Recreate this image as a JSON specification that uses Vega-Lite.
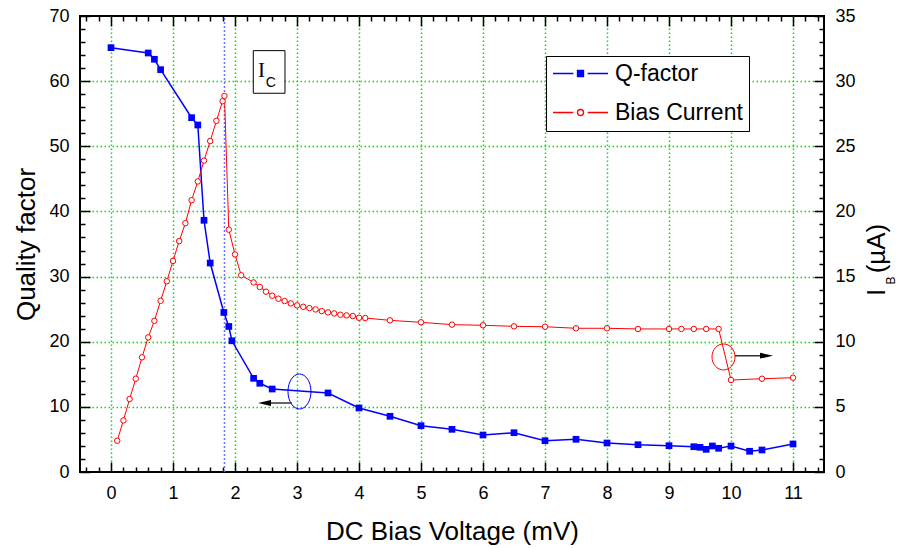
{
  "$schema": "https://vega.github.io/schema/vega-lite/v6.json",
  "width": 744,
  "height": 456,
  "autosize": {"type": "none"},
  "padding": {"left": 80, "top": 16, "right": 75, "bottom": 76},
  "background": "white",
  "config": {
    "view": {"stroke": "black", "strokeWidth": 2},
    "font": "Liberation Sans",
    "axis": {
      "labelFont": "Liberation Sans", "labelFontSize": 18, "labelColor": "black",
      "titleFont": "Liberation Sans", "titleFontSize": 26, "titleFontWeight": "normal", "titleColor": "black",
      "tickColor": "black", "tickWidth": 1.5, "domain": false, "labelFlush": false, "labelOverlap": false
    }
  },
  "datasets": {
    "q": [
      {"v": 0, "q": 65.14}, {"v": 0.6, "q": 64.32}, {"v": 0.7, "q": 63.36}, {"v": 0.8, "q": 61.76},
      {"v": 1.3, "q": 54.39}, {"v": 1.4, "q": 53.27}, {"v": 1.5, "q": 38.64}, {"v": 1.6, "q": 32.08},
      {"v": 1.82, "q": 24.49}, {"v": 1.9, "q": 22.34}, {"v": 1.95, "q": 20.14}, {"v": 2.3, "q": 14.38},
      {"v": 2.4, "q": 13.62}, {"v": 2.6, "q": 12.74}, {"v": 3.5, "q": 12.13}, {"v": 4.0, "q": 9.83},
      {"v": 4.5, "q": 8.55}, {"v": 5.0, "q": 7.11}, {"v": 5.5, "q": 6.55}, {"v": 6.0, "q": 5.68},
      {"v": 6.5, "q": 6.03}, {"v": 7.0, "q": 4.8}, {"v": 7.5, "q": 5.02}, {"v": 8.0, "q": 4.45},
      {"v": 8.5, "q": 4.19}, {"v": 9.0, "q": 4.04}, {"v": 9.4, "q": 3.88}, {"v": 9.5, "q": 3.79},
      {"v": 9.6, "q": 3.48}, {"v": 9.7, "q": 3.99}, {"v": 9.8, "q": 3.64}, {"v": 10.0, "q": 3.99},
      {"v": 10.3, "q": 3.18}, {"v": 10.5, "q": 3.38}, {"v": 11.0, "q": 4.3}
    ],
    "ib": [
      {"v": 0.1, "i": 2.4}, {"v": 0.2, "i": 3.96}, {"v": 0.3, "i": 5.6}, {"v": 0.4, "i": 7.16},
      {"v": 0.5, "i": 8.8}, {"v": 0.6, "i": 10.33}, {"v": 0.7, "i": 11.6}, {"v": 0.8, "i": 13.14},
      {"v": 0.9, "i": 14.64}, {"v": 1.0, "i": 16.2}, {"v": 1.1, "i": 17.72}, {"v": 1.2, "i": 19.1},
      {"v": 1.3, "i": 20.86}, {"v": 1.4, "i": 22.3}, {"v": 1.5, "i": 23.9}, {"v": 1.6, "i": 25.4},
      {"v": 1.7, "i": 26.95}, {"v": 1.8, "i": 28.46}, {"v": 1.83, "i": 28.86}, {"v": 1.9, "i": 18.6},
      {"v": 2.0, "i": 16.7}, {"v": 2.1, "i": 15.1}, {"v": 2.3, "i": 14.55}, {"v": 2.4, "i": 14.2},
      {"v": 2.5, "i": 13.84}, {"v": 2.6, "i": 13.53}, {"v": 2.7, "i": 13.3}, {"v": 2.8, "i": 13.12},
      {"v": 2.9, "i": 12.94}, {"v": 3.0, "i": 12.79}, {"v": 3.1, "i": 12.68}, {"v": 3.2, "i": 12.58},
      {"v": 3.3, "i": 12.48}, {"v": 3.4, "i": 12.35}, {"v": 3.5, "i": 12.25}, {"v": 3.6, "i": 12.17},
      {"v": 3.7, "i": 12.07}, {"v": 3.8, "i": 12.02}, {"v": 3.9, "i": 11.97}, {"v": 4.0, "i": 11.84},
      {"v": 4.1, "i": 11.82}, {"v": 4.5, "i": 11.64}, {"v": 5.0, "i": 11.49}, {"v": 5.5, "i": 11.31},
      {"v": 6.0, "i": 11.26}, {"v": 6.5, "i": 11.18}, {"v": 7.0, "i": 11.15}, {"v": 7.5, "i": 11.03},
      {"v": 8.0, "i": 11.03}, {"v": 8.5, "i": 10.98}, {"v": 9.0, "i": 10.98}, {"v": 9.2, "i": 10.98},
      {"v": 9.4, "i": 10.98}, {"v": 9.6, "i": 10.98}, {"v": 9.8, "i": 10.98}, {"v": 10.0, "i": 7.06},
      {"v": 10.5, "i": 7.16}, {"v": 11.0, "i": 7.24}
    ],
    "one": [{"k": 1}]
  },
  "layer": [
    {
      "layer": [
        {
          "data": {"name": "q"},
          "mark": {"type": "point", "opacity": 0},
          "encoding": {
            "x": {
              "field": "v", "type": "quantitative",
              "scale": {"domain": [-0.5, 11.5], "nice": false, "zero": false},
              "axis": {"orient": "bottom", "title": null, "labels": false, "ticks": false, "domain": false,
                       "values": [0,1,2,3,4,5,6,7,8,9,10,11], "labelOverlap": false,
                       "grid": true, "gridColor": "#00e000", "gridDash": [1.5, 2.5], "gridWidth": 1.5, "gridOpacity": 1}
            },
            "y": {
              "field": "q", "type": "quantitative",
              "scale": {"domain": [0, 70], "nice": false},
              "axis": {"orient": "left", "title": null, "labels": false, "ticks": false, "domain": false,
                       "values": [10,20,30,40,50,60], "labelOverlap": false,
                       "grid": true, "gridColor": "#00e000", "gridDash": [1.5, 2.5], "gridWidth": 1.5, "gridOpacity": 1}
            }
          }
        },
        {
          "data": {"name": "one"},
          "mark": {"type": "rule", "color": "#6f6fff", "strokeDash": [2, 2], "strokeWidth": 1.5},
          "encoding": {
            "x": {"datum": 1.83, "type": "quantitative", "axis": null},
            "y": {"datum": 0, "type": "quantitative", "axis": null},
            "y2": {"datum": 70}
          }
        },
        {
          "data": {"name": "q"},
          "mark": {"type": "line", "strokeWidth": 1.5},
          "encoding": {
            "x": {
              "field": "v", "type": "quantitative",
              "axis": {
                "orient": "bottom", "title": "DC Bias Voltage (mV)", "grid": false, "labelOverlap": false,
                "values": [-0.4,-0.2,0,0.2,0.4,0.6,0.8,1,1.2,1.4,1.6,1.8,2,2.2,2.4,2.6,2.8,3,3.2,3.4,3.6,3.8,4,4.2,4.4,4.6,4.8,5,5.2,5.4,5.6,5.8,6,6.2,6.4,6.6,6.8,7,7.2,7.4,7.6,7.8,8,8.2,8.4,8.6,8.8,9,9.2,9.4,9.6,9.8,10,10.2,10.4,10.6,10.8,11,11.2,11.4],
                "labelExpr": "datum.value % 1 === 0 ? format(datum.value, 'd') : ''",
                "tickSize": {"condition": {"test": "datum.value % 1 === 0", "value": -10}, "value": -5},
                "labelPadding": 22,
                "titlePadding": 11
              }
            },
            "y": {
              "field": "q", "type": "quantitative",
              "axis": {
                "orient": "left", "title": "Quality factor", "grid": false, "labelOverlap": false,
                "values": [0,2,4,6,8,10,12,14,16,18,20,22,24,26,28,30,32,34,36,38,40,42,44,46,48,50,52,54,56,58,60,62,64,66,68,70],
                "labelExpr": "datum.value % 10 === 0 ? format(datum.value, 'd') : ''",
                "tickSize": {"condition": {"test": "datum.value % 10 === 0", "value": -10}, "value": -5},
                "labelPadding": 21,
                "titlePadding": 9
              }
            },
            "color": {
              "datum": "Q-factor",
              "scale": {"domain": ["Q-factor", "Bias Current"], "range": ["#0000ff", "#ff0000"]},
              "legend": {
                "title": null, "orient": "none", "legendX": 466, "legendY": 40,
                "strokeColor": "black", "fillColor": "white", "padding": 6,
                "symbolSize": 3025, "clipHeight": 23, "rowPadding": 15,
                "labelFont": "Liberation Sans", "labelFontSize": 23, "labelColor": "black", "labelOffset": 6, "labelLimit": 300,
                "symbolStrokeWidth": 1.3,
                "encode": {
                  "symbols": {
                    "update": {
                      "shape": {"signal": "datum.value === 'Q-factor' ? 'M-1,0H-0.26M0.26,0H1M-0.11,-0.11H0.11V0.11H-0.11Z' : 'M-1,0H-0.26M0.26,0H1M0.11,0A0.11,0.11,0,1,1,-0.11,0A0.11,0.11,0,1,1,0.11,0Z'"},
                      "fill": {"signal": "datum.value === 'Q-factor' ? '#0000ff' : '#ffffff'"},
                      "stroke": {"signal": "datum.value === 'Q-factor' ? '#0000ff' : '#ff0000'"},
                      "strokeWidth": {"value": 1.3},
                      "opacity": {"value": 1},
                      "fillOpacity": {"value": 1},
                      "strokeOpacity": {"value": 1}
                    }
                  }
                }
              }
            }
          }
        },
        {
          "data": {"name": "q"},
          "mark": {"type": "point", "shape": "square", "size": 45, "filled": true, "color": "#0000ff", "opacity": 1},
          "encoding": {
            "x": {"field": "v", "type": "quantitative", "axis": null},
            "y": {"field": "q", "type": "quantitative", "axis": null}
          }
        },
        {
          "data": {"name": "one"},
          "mark": {"type": "rect", "fill": "white", "stroke": "black", "strokeWidth": 1, "clip": false},
          "encoding": {
            "x": {"datum": 2.295, "type": "quantitative", "axis": null},
            "x2": {"datum": 2.806},
            "y": {"datum": 64.68, "type": "quantitative", "axis": null},
            "y2": {"datum": 58.14}
          }
        },
        {
          "data": {"name": "one"},
          "mark": {"type": "text", "font": "Liberation Serif", "fontSize": 21, "align": "center", "baseline": "alphabetic", "color": "black", "clip": false},
          "encoding": {
            "x": {"datum": 2.427, "type": "quantitative", "axis": null},
            "y": {"datum": 60.67, "type": "quantitative", "axis": null},
            "text": {"value": "I"}
          }
        },
        {
          "data": {"name": "one"},
          "mark": {"type": "text", "font": "Liberation Sans", "fontSize": 14, "align": "center", "baseline": "alphabetic", "color": "black", "clip": false},
          "encoding": {
            "x": {"datum": 2.577, "type": "quantitative", "axis": null},
            "y": {"datum": 59.15, "type": "quantitative", "axis": null},
            "text": {"value": "C"}
          }
        },
        {
          "data": {"name": "one"},
          "mark": {"type": "point", "shape": "M0,-1A0.657,1,0,1,1,0,1A0.657,1,0,1,1,0,-1Z", "size": 1225, "filled": false, "stroke": "#0000ff", "strokeWidth": 1, "opacity": 1, "clip": false},
          "encoding": {
            "x": {"datum": 3.04, "type": "quantitative", "axis": null},
            "y": {"datum": 12.36, "type": "quantitative", "axis": null}
          }
        },
        {
          "data": {"name": "one"},
          "mark": {"type": "rule", "color": "#333333", "strokeWidth": 1.5, "clip": false},
          "encoding": {
            "x": {"datum": 2.45, "type": "quantitative", "axis": null},
            "x2": {"datum": 2.919},
            "y": {"datum": 10.59, "type": "quantitative", "axis": null}
          }
        },
        {
          "data": {"name": "one"},
          "mark": {"type": "point", "shape": "M-1,0L1,-0.45L1,0.45Z", "size": 169, "filled": true, "color": "black", "opacity": 1, "clip": false},
          "encoding": {
            "x": {"datum": 2.476, "type": "quantitative", "axis": null},
            "y": {"datum": 10.59, "type": "quantitative", "axis": null}
          }
        }
      ],
      "resolve": {"axis": {"x": "independent", "y": "independent"}}
    },
    {
      "layer": [
        {
          "data": {"name": "ib"},
          "mark": {"type": "line", "strokeWidth": 1},
          "encoding": {
            "x": {
              "field": "v", "type": "quantitative",
              "scale": {"domain": [-0.5, 11.5], "nice": false, "zero": false},
              "axis": {
                "orient": "top", "title": null, "labels": false, "grid": false, "labelOverlap": false,
                "values": [-0.4,-0.2,0,0.2,0.4,0.6,0.8,1,1.2,1.4,1.6,1.8,2,2.2,2.4,2.6,2.8,3,3.2,3.4,3.6,3.8,4,4.2,4.4,4.6,4.8,5,5.2,5.4,5.6,5.8,6,6.2,6.4,6.6,6.8,7,7.2,7.4,7.6,7.8,8,8.2,8.4,8.6,8.8,9,9.2,9.4,9.6,9.8,10,10.2,10.4,10.6,10.8,11,11.2,11.4],
                "tickSize": {"condition": {"test": "datum.value % 1 === 0", "value": -10}, "value": -5}
              }
            },
            "y": {
              "field": "i", "type": "quantitative",
              "scale": {"domain": [0, 35], "nice": false},
              "axis": {
                "orient": "right", "title": null, "grid": false, "labelOverlap": false,
                "values": [0,1,2,3,4,5,6,7,8,9,10,11,12,13,14,15,16,17,18,19,20,21,22,23,24,25,26,27,28,29,30,31,32,33,34,35],
                "labelExpr": "datum.value % 5 === 0 ? format(datum.value, 'd') : ''",
                "tickSize": {"condition": {"test": "datum.value % 5 === 0", "value": -10}, "value": -5},
                "labelPadding": 21
              }
            },
            "color": {"datum": "Bias Current"}
          }
        },
        {
          "data": {"name": "ib"},
          "mark": {"type": "point", "shape": "circle", "size": 30, "fill": "white", "stroke": "#ff0000", "strokeWidth": 1, "opacity": 1, "fillOpacity": 1},
          "encoding": {
            "x": {"field": "v", "type": "quantitative", "axis": null},
            "y": {"field": "i", "type": "quantitative", "axis": null}
          }
        },
        {
          "data": {"name": "one"},
          "mark": {"type": "point", "shape": "M0,-1A0.885,1,0,1,1,0,1A0.885,1,0,1,1,0,-1Z", "size": 676, "filled": false, "stroke": "#ff0000", "strokeWidth": 1, "opacity": 1, "clip": false},
          "encoding": {
            "x": {"datum": 9.879, "type": "quantitative", "axis": null},
            "y": {"datum": 8.83, "type": "quantitative", "axis": null}
          }
        },
        {
          "data": {"name": "one"},
          "mark": {"type": "rule", "color": "#333333", "strokeWidth": 1.5, "clip": false},
          "encoding": {
            "x": {"datum": 10.065, "type": "quantitative", "axis": null},
            "x2": {"datum": 10.6},
            "y": {"datum": 8.93, "type": "quantitative", "axis": null}
          }
        },
        {
          "data": {"name": "one"},
          "mark": {"type": "point", "shape": "M1,0L-1,-0.45L-1,0.45Z", "size": 169, "filled": true, "color": "black", "opacity": 1, "clip": false},
          "encoding": {
            "x": {"datum": 10.573, "type": "quantitative", "axis": null},
            "y": {"datum": 8.93, "type": "quantitative", "axis": null}
          }
        },
        {
          "data": {"name": "one"},
          "mark": {"type": "text", "font": "Liberation Sans", "fontSize": 26, "angle": 270, "align": "center", "baseline": "alphabetic", "color": "black", "clip": false},
          "encoding": {
            "x": {"datum": 12.484, "type": "quantitative", "axis": null},
            "y": {"datum": 13.78, "type": "quantitative", "axis": null},
            "text": {"value": "I"}
          }
        },
        {
          "data": {"name": "one"},
          "mark": {"type": "text", "font": "Liberation Sans", "fontSize": 12, "angle": 270, "align": "center", "baseline": "alphabetic", "color": "black", "clip": false},
          "encoding": {
            "x": {"datum": 12.645, "type": "quantitative", "axis": null},
            "y": {"datum": 14.7, "type": "quantitative", "axis": null},
            "text": {"value": "B"}
          }
        },
        {
          "data": {"name": "one"},
          "mark": {"type": "text", "font": "Liberation Sans", "fontSize": 26, "angle": 270, "align": "center", "baseline": "alphabetic", "color": "black", "clip": false},
          "encoding": {
            "x": {"datum": 12.484, "type": "quantitative", "axis": null},
            "y": {"datum": 17.15, "type": "quantitative", "axis": null},
            "text": {"value": "(µA)"}
          }
        }
      ],
      "resolve": {"axis": {"x": "independent", "y": "independent"}}
    }
  ],
  "resolve": {
    "scale": {"y": "independent"},
    "axis": {"x": "independent", "y": "independent"}
  }
}
